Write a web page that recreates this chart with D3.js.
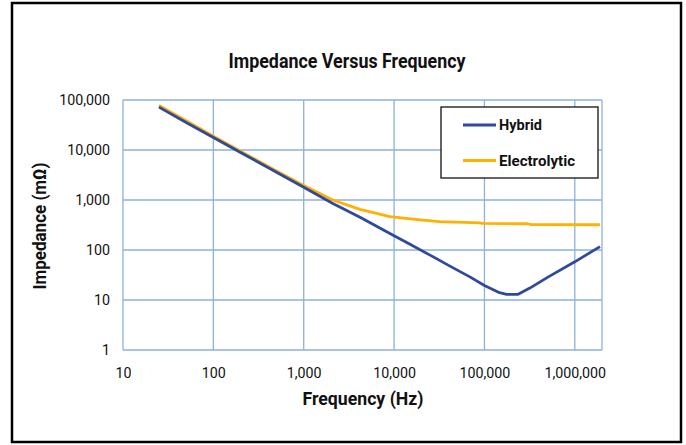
<!DOCTYPE html>
<html>
<head>
<meta charset="utf-8">
<script src="https://cdn.jsdelivr.net/npm/d3@7"></script>
<style>
  body { margin: 0; background: #fff; }
  text { font-family: Roboto, sans-serif; fill: #111; }
</style>
</head>
<body>
<svg id="chart"></svg>
<script>
// Datos (frecuencia en Hz, impedancia en mOhm)
const hybridFreq = [25, 50, 100, 200, 500, 1000, 2100, 4200, 10000, 15000, 25000, 42000, 69000, 100000, 147000, 176000, 236000, 318000, 510000, 1000000, 1900000];
const hybridZ    = [72000, 35500, 17800, 8900, 3600, 1800, 850, 450, 193, 130, 79, 47, 29, 19.5, 14, 13, 13, 17.3, 29, 58, 117];

const elecFreq = [25, 50, 100, 200, 500, 700, 1000, 2100, 4200, 9000, 19500, 32000, 89000, 95000, 300000, 330000, 1900000];
const elecZ    = [78000, 38500, 18800, 9400, 3800, 2750, 1950, 1000, 650, 465, 400, 370, 350, 340, 335, 322, 320];

const xTicks = [10, 100, 1000, 10000, 100000, 1000000];
const yTicks = [1, 10, 100, 1000, 10000, 100000];

const series = [
  { name: 'Hybrid', freq: hybridFreq, z: hybridZ, color: '#2f4a9c' },
  { name: 'Electrolytic', freq: elecFreq, z: elecZ, color: '#ffb000' }
];

const width = 686;
const height = 445;

const svg = d3.select('#chart')
  .attr('width', width)
  .attr('height', height);

// Marco exterior
svg.append('rect')
  .attr('x', 12).attr('y', 3)
  .attr('width', 669).attr('height', 439)
  .attr('fill', '#fff')
  .attr('stroke', '#000')
  .attr('stroke-width', 2.5);

// Escalas
const x = d3.scaleLog().domain([10, 2000000]).range([123, 602]);
const y = d3.scaleLog().domain([1, 100000]).range([350, 100]);
const fmt = d3.format(',');

// Rejilla
const grid = svg.append('g');
grid.selectAll('.vline')
  .data(xTicks.concat([2000000]))
  .enter().append('line')
  .attr('x1', d => x(d)).attr('x2', d => x(d))
  .attr('y1', y(1)).attr('y2', y(100000))
  .attr('stroke', '#8eb0dc').attr('stroke-width', 1.3);
grid.selectAll('.hline')
  .data(yTicks)
  .enter().append('line')
  .attr('x1', x(10)).attr('x2', x(2000000))
  .attr('y1', d => y(d)).attr('y2', d => y(d))
  .attr('stroke', '#8eb0dc').attr('stroke-width', 1.3);

// Ejes (solo etiquetas, letra algo estrecha)
const xAxis = svg.append('g')
  .attr('transform', `translate(0,${y(1)})`)
  .call(d3.axisBottom(x).tickValues(xTicks).tickFormat(fmt).tickSize(0).tickPadding(17));
xAxis.select('.domain').remove();
xAxis.selectAll('text')
  .style('font-size', '15.5px').style('font-family', 'Roboto').attr('fill', '#111')
  .attr('transform', 'scale(0.92,1)');

const yAxis = svg.append('g')
  .attr('transform', `translate(${x(10)},0)`)
  .call(d3.axisLeft(y).tickValues(yTicks).tickFormat(fmt).tickSize(0).tickPadding(14));
yAxis.select('.domain').remove();
yAxis.selectAll('text')
  .style('font-size', '15.5px').style('font-family', 'Roboto').attr('fill', '#111')
  .attr('transform', 'scale(0.92,1)');

// Lineas
const line = d3.line()
  .x(d => x(d[0]))
  .y(d => y(d[1]));

svg.selectAll('.serie')
  .data(series.slice().reverse())
  .enter().append('path')
  .attr('d', s => line(s.freq.map((f, i) => [f, s.z[i]])))
  .attr('fill', 'none')
  .attr('stroke', s => s.color)
  .attr('stroke-width', 2.8)
  .attr('stroke-linejoin', 'round');

// Titulos
svg.append('text')
  .attr('x', 347).attr('y', 68)
  .attr('text-anchor', 'middle')
  .attr('textLength', 237).attr('lengthAdjust', 'spacingAndGlyphs')
  .style('font-size', '19.5px').style('font-weight', 'bold')
  .text('Impedance Versus Frequency');

svg.append('text')
  .attr('x', 363).attr('y', 405)
  .attr('text-anchor', 'middle')
  .attr('textLength', 121).attr('lengthAdjust', 'spacingAndGlyphs')
  .style('font-size', '18.5px').style('font-weight', 'bold')
  .text('Frequency (Hz)');

svg.append('text')
  .attr('transform', 'translate(46,226) rotate(-90)')
  .attr('text-anchor', 'middle')
  .attr('textLength', 127).attr('lengthAdjust', 'spacingAndGlyphs')
  .style('font-size', '18px').style('font-weight', 'bold')
  .text('Impedance (mΩ)');

// Leyenda
const legend = svg.append('g');
legend.append('rect')
  .attr('x', 441).attr('y', 107)
  .attr('width', 157).attr('height', 71)
  .attr('fill', '#fff')
  .attr('stroke', '#111')
  .attr('stroke-width', 1.3);

const items = legend.selectAll('.item')
  .data(series)
  .enter().append('g')
  .attr('transform', (d, i) => `translate(463,${125 + i * 35.5})`);
items.append('line')
  .attr('x1', 0).attr('x2', 33)
  .attr('stroke', d => d.color)
  .attr('stroke-width', 2.8);
items.append('text')
  .attr('x', 36).attr('y', 5)
  .attr('textLength', d => d.name === 'Hybrid' ? 43 : 76)
  .attr('lengthAdjust', 'spacingAndGlyphs')
  .style('font-size', '15px').style('font-weight', 'bold')
  .text(d => d.name);
</script>
</body>
</html>
